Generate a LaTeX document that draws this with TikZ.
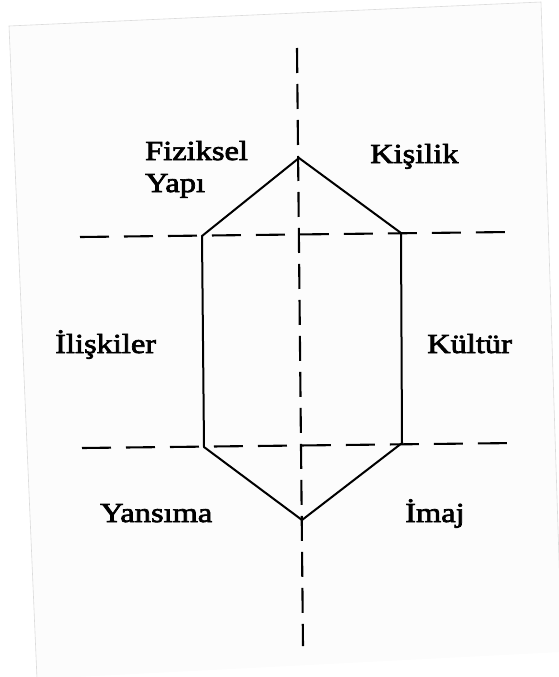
\documentclass[tikz,border=0pt]{standalone}
\usepackage{fontspec}
\setmainfont{Liberation Serif}[FakeStretch=1.18,FakeBold=2.6]
\begin{document}
\begin{tikzpicture}[x=1pt,y=-1pt,
  solidline/.style={line width=2pt, black},
  hdash/.style={line width=2.1pt, black, dash pattern=on 29pt off 15pt},
  vdash/.style={line width=2.1pt, black, dash pattern=on 25pt off 11pt},
  lbl/.style={inner sep=0pt, anchor=base west, font=\fontsize{27.5}{30}\selectfont}]
\useasboundingbox (0,0) rectangle (558,677);
% scanned page
\fill[fill=black!1.3] (9,26) -- (541,2) -- (562,652) -- (37,679) -- cycle;
\draw[black!14, line width=0.6pt] (37,679) -- (9,26) -- (541,2) -- (562,652);
% axes
\coordinate (vt) at (297,48);
\coordinate (vb) at (303,646);
\coordinate (h1l) at (80,237);
\coordinate (h1r) at (510,232);
\coordinate (h2l) at (82,448);
\coordinate (h2r) at (516,443);
\draw[vdash] (vt) -- (vb);
\draw[hdash] (h1l) -- (h1r);
\draw[hdash] (h2l) -- (h2r);
% hexagon
\coordinate (T) at (299,158);
\coordinate (UR) at (401,233);
\coordinate (LR) at (402,443);
\coordinate (B) at (302,520);
\coordinate (LL) at (204,447);
\coordinate (UL) at (202,236);
\draw[solidline, line join=miter] (T) -- (UR) -- (LR) -- (B) -- (LL) -- (UL) -- cycle;
% labels
\node[lbl] (fiz) at (145,160) {Fiziksel};
\node[lbl] (yap) at (145,192) {Yapı};
\node[lbl] (kis) at (370,163) {Kişilik};
\node[lbl] (ili) at (55,353) {İlişkiler};
\node[lbl] (kul) at (427,353) {Kültür};
\node[lbl] (yan) at (100,522) {Yansıma};
\node[lbl] (ima) at (405,522) {İmaj};
\end{tikzpicture}
\end{document}
